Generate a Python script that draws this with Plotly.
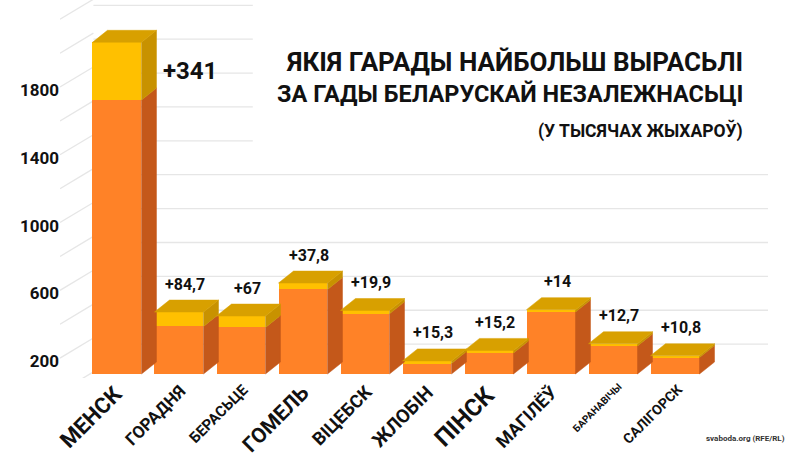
import plotly.graph_objects as go

cities = ["МЕНСК", "ГОРАДНЯ", "БЕРАСЬЦЕ", "ГОМЕЛЬ", "ВІЦЕБСК", "ЖЛОБІН", "ПІНСК", "МАГІЛЁЎ", "БАРАНАВІЧЫ", "САЛІГОРСК"]
base_pop = [1617, 281, 275, 499, 355, 62, 124, 366, 166, 97]
growth = [341, 84.7, 67, 37.8, 19.9, 15.3, 15.2, 14, 12.7, 10.8]
growth_labels = ["+341", "+84,7", "+67", "+37,8", "+19,9", "+15,3", "+15,2", "+14", "+12,7", "+10,8"]
city_font_sizes = [22, 17, 15, 21, 18, 19, 24, 18, 10, 14]
ytick_vals = [200, 600, 1000, 1400, 1800]
grid_vals = [200 * k for k in range(0, 12)]

title_lines = ["ЯКІЯ ГАРАДЫ НАЙБОЛЬШ ВЫРАСЬЛІ", "ЗА ГАДЫ БЕЛАРУСКАЙ НЕЗАЛЕЖНАСЬЦІ", "(У ТЫСЯЧАХ ЖЫХАРОЎ)"]
source = "svaboda.org (RFE/RL)"

FONT = "Roboto, sans-serif"
ORANGE = "#FF8227"
YELLOW = "#FFC000"
TOP = "#D8A000"
SIDE_O = "#C4581A"
SIDE_Y = "#C89200"

# geometry (pixels -> data units)
S = 0.1694          # px per unit on value axis
PITCH = 62.0        # px per category
BW = 0.79           # bar width (category units)
DX = 15 / PITCH     # depth offset x
DY = 12 / S         # depth offset y
WALL = -4 / S       # back-wall zero offset
LEFT = -106.0       # left wall label offset

x = list(range(len(cities)))
totals = [b + g for b, g in zip(base_pop, growth)]

fig = go.Figure()
fig.add_trace(go.Bar(x=x, y=base_pop, width=BW, marker=dict(color=ORANGE, line=dict(width=0)),
                     showlegend=False, hoverinfo="skip"))
fig.add_trace(go.Bar(x=x, y=growth, width=BW, marker=dict(color=YELLOW, line=dict(width=0)),
                     showlegend=False, hoverinfo="skip"))

for i, (b, t) in enumerate(zip(base_pop, totals)):
    xl = i - BW / 2
    xr = i + BW / 2
    faces = [
        ([xr, xr + DX, xr + DX, xr, xr], [0, DY, b + DY, b, 0], SIDE_O),
        ([xr, xr + DX, xr + DX, xr, xr], [b, b + DY, t + DY, t, b], SIDE_Y),
        ([xl, xr, xr + DX, xl + DX, xl], [t, t, t + DY, t + DY, t], TOP),
    ]
    for fx, fy, col in faces:
        fig.add_trace(go.Scatter(x=fx, y=fy, mode="lines", fill="toself", fillcolor=col,
                                 line=dict(width=0.5, color=col), showlegend=False, hoverinfo="skip"))

# invisible trace to carry the label axis
fig.add_trace(go.Scatter(x=[0], y=[1000], yaxis="y2", mode="markers", marker=dict(opacity=0),
                         showlegend=False, hoverinfo="skip"))

shapes = []
wall_x0 = -0.38
for v in grid_vals:
    if v > 0:
        shapes.append(dict(type="line", xref="x", yref="y", x0=wall_x0, x1=10.5,
                           y0=v + WALL, y1=v + WALL, line=dict(color="#e6e6e6", width=1.3), layer="below"))
    y_left = v + LEFT
    shapes.append(dict(type="line", xref="x", yref="y", x0=-0.919, x1=wall_x0,
                       y0=y_left, y1=y_left + 0.6 * (wall_x0 + 0.919) * PITCH / S,
                       line=dict(color="#e6e6e6", width=1.3), layer="below"))
# white box behind the title
shapes.append(dict(type="rect", xref="x", yref="y", x0=2.19, x1=10.7, y0=1293, y1=2400,
                   fillcolor="white", line=dict(width=0), layer="below"))

annotations = []
for i, (b, g, t, lab) in enumerate(zip(base_pop, growth, totals, growth_labels)):
    if i == 0:
        annotations.append(dict(x=1.18, y=b + g / 2, xref="x", yref="y", text=lab, showarrow=False,
                                font=dict(family=FONT, size=24, color="#111", weight="bold"),
                                xanchor="center", yanchor="middle"))
    else:
        annotations.append(dict(x=i + 0.1, y=t, xref="x", yref="y", text=lab, showarrow=False,
                                yshift=28, font=dict(family=FONT, size=16, color="#111", weight="bold"),
                                xanchor="center", yanchor="middle"))

for i, (c, fs) in enumerate(zip(cities, city_font_sizes)):
    annotations.append(dict(x=i + 0.22, y=0, xref="x", yref="y", text=c, showarrow=False,
                            textangle=-45, yshift=-4, xanchor="right", yanchor="top",
                            font=dict(family=FONT, size=fs, color="#111", weight="bold")))

title_y = [1 - 62 / 378, 1 - 94 / 378, 1 - 130 / 378]
title_sizes = [26, 23.5, 17.5]
for line, ty, ts in zip(title_lines, title_y, title_sizes):
    annotations.append(dict(x=(745 - 60) / 711, y=ty, xref="paper", yref="paper", text=line,
                            showarrow=False, xanchor="right", yanchor="middle",
                            font=dict(family=FONT, size=ts, color="#111", weight="bold")))

annotations.append(dict(x=(787 - 60) / 711, y=1 - 438 / 378, xref="paper", yref="paper", text=source,
                        showarrow=False, xanchor="right", yanchor="middle",
                        font=dict(family=FONT, size=8, color="#333", weight="bold")))

fig.update_layout(
    width=800, height=464,
    margin=dict(l=60, r=29, t=0, b=86),
    paper_bgcolor="white", plot_bgcolor="white",
    barmode="stack", bargap=0,
    xaxis=dict(range=[-0.919, 10.548], showticklabels=False, showgrid=False, zeroline=False,
               showline=False, ticks=""),
    yaxis=dict(range=[-4 / S, 374 / S], showticklabels=False, showgrid=False, zeroline=False,
               showline=False, ticks=""),
    yaxis2=dict(range=[(395 - 378) / S, 395 / S], overlaying="y", side="left", tickvals=ytick_vals,
                showgrid=False, zeroline=False, showline=False, ticks="",
                tickfont=dict(family=FONT, size=17, color="#111", weight="bold")),
    shapes=shapes,
    annotations=annotations,
)

fig.write_html("out.html")
